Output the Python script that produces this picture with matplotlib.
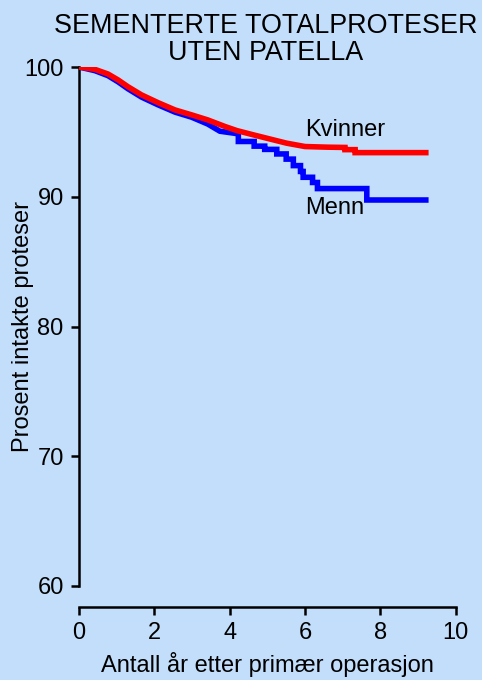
import matplotlib
matplotlib.use("Agg")
import matplotlib.pyplot as plt

plt.rcParams['font.family'] = ['Liberation Sans', 'DejaVu Sans']

title = "SEMENTERTE TOTALPROTESER\nUTEN PATELLA"
xlabel = "Antall år etter primær operasjon"
ylabel = "Prosent intakte proteser"
xticks = [0, 2, 4, 6, 8, 10]
yticks = [60, 70, 80, 90, 100]
series_labels = ["Kvinner", "Menn"]

# Kvinner: smooth (many tiny steps) part, then a few visible steps
kvinner_t = [0, 0.42, 0.77, 1.04, 1.30, 1.66, 2.10, 2.55, 2.99, 3.42, 3.88, 4.19,
             4.63, 5.0, 5.51, 6.0, 6.6, 7.06]
kvinner_v = [100, 99.82, 99.46, 99.0, 98.48, 97.85, 97.25, 96.69, 96.31, 95.92,
             95.41, 95.1, 94.77, 94.5, 94.13, 93.87, 93.82, 93.8]
kvinner_step_t = [7.06, 7.33]
kvinner_step_v = [93.63, 93.4]
kvinner_end = 9.28

# Menn
menn_t = [0, 0.42, 0.77, 1.04, 1.30, 1.66, 2.10, 2.55, 2.99, 3.42, 3.74, 4.23]
menn_v = [100, 99.72, 99.33, 98.85, 98.32, 97.68, 97.08, 96.52, 96.13, 95.6,
          95.05, 94.85]
menn_step_t = [4.23, 4.65, 4.93, 5.25, 5.5, 5.69, 5.88, 5.95, 6.2, 6.33, 7.64]
menn_step_v = [94.26, 93.9, 93.65, 93.3, 92.9, 92.4, 91.95, 91.5, 91.1, 90.63, 89.75]
menn_end = 9.28


def staircase(t, v, st, sv, end):
    xs, ys = list(t), list(v)
    for ti, vi in zip(st, sv):
        xs += [ti, ti]
        ys += [ys[-1], vi]
    xs.append(end)
    ys.append(ys[-1])
    return xs, ys


bg = '#C2DEFA'
fig = plt.figure(figsize=(4.82, 6.8), dpi=100, facecolor=bg)
ax = fig.add_axes([79/482, 1-586/680, (455.7-79)/482, (586-67)/680])
ax.set_facecolor(bg)

mx, my = staircase(menn_t, menn_v, menn_step_t, menn_step_v, menn_end)
kx, ky = staircase(kvinner_t, kvinner_v, kvinner_step_t, kvinner_step_v, kvinner_end)
ax.plot(mx, my, color='#0000FF', lw=4.0, solid_joinstyle='miter',
        solid_capstyle='butt', zorder=3)
ax.plot(kx, ky, color='#FF0000', lw=4.0, solid_joinstyle='miter',
        solid_capstyle='butt', zorder=4)

ax.set_xlim(0, 10)
ax.set_ylim(60, 100)
ax.set_xticks(xticks)
ax.set_yticks(yticks)
for s in ['top', 'right']:
    ax.spines[s].set_visible(False)
ax.spines['bottom'].set_position(('outward', 15))
for s in ['left', 'bottom']:
    ax.spines[s].set_linewidth(1.8)
ax.tick_params(axis='both', direction='out', length=5.5, width=1.8,
               labelsize=17, pad=5.5, colors='black')

ax.set_xlabel(xlabel, fontsize=17, labelpad=6)
ax.set_ylabel(ylabel, fontsize=17)
ax.yaxis.set_label_coords(-0.12, 0.5)

ax.text(6.0, 95.15, series_labels[0], fontsize=17, ha='left', va='center')
ax.text(6.0, 89.1, series_labels[1], fontsize=17, ha='left', va='center')

fig.text(0.551, 0.942, title, fontsize=19.4, ha='center', va='center',
         linespacing=1.02)

fig.savefig("out.png", dpi=100, facecolor=bg)
